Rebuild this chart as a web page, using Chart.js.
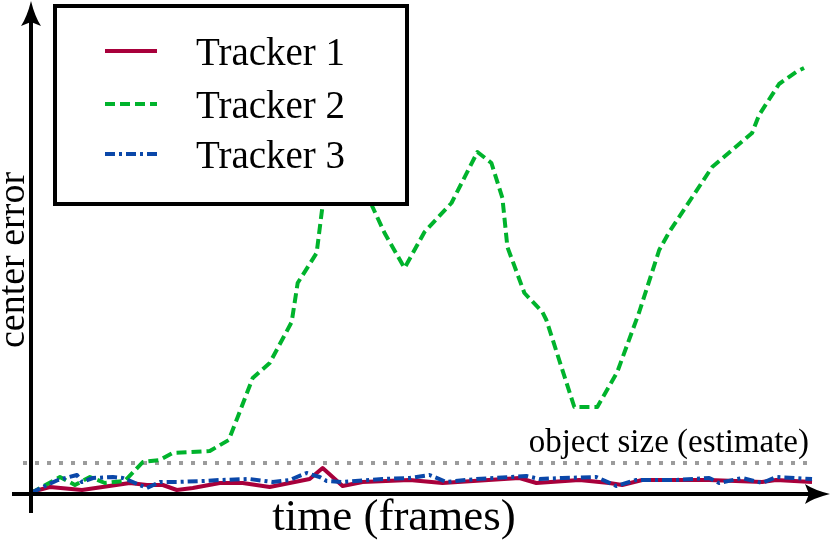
<!DOCTYPE html>
<html>
<head>
<meta charset="utf-8">
<script src="https://cdn.jsdelivr.net/npm/chart.js@4/dist/chart.umd.min.js"></script>
<style>
  html, body { margin: 0; padding: 0; background: #fff; }
  #wrap { width: 830px; height: 541px; position: relative; }
</style>
</head>
<body>
<div id="wrap"><canvas id="chart" width="830" height="541"></canvas></div>
<script>
// values (x = frame, y = center error)
const seriesNames = ["Tracker 1", "Tracker 2", "Tracker 3"];

const tracker1Frames = [0, 9.5, 25.5, 49.5, 58, 66, 73, 81, 94.5, 106, 119.5, 139.5, 146, 156, 166, 189.5, 206, 244.5, 253, 274.5, 289.5, 296, 306, 339.5, 366, 373, 391];
const tracker1Error  = [1, 3.5, 2, 5.5, 4.5, 4.5, 2, 3, 5.5, 5.5, 3.5, 7.5, 13, 4, 6, 7, 5.5, 8, 5.5, 7, 5.5, 4.5, 7, 7, 6, 7, 6];

const tracker2Frames = [0, 14.5, 22, 29.5, 37, 47, 56, 64.5, 71, 89.5, 99, 103.5, 111, 119.5, 130.5, 133.5, 143, 146, 152, 159.5, 165.5, 171, 177, 187, 197, 210.5, 223.5, 230.5, 236, 238.5, 247, 256, 258, 272, 283.5, 293.5, 304.5, 314.5, 319.5, 341, 361, 364.5, 374.5, 383, 387];
const tracker2Error  = [0.5, 8.5, 4.5, 8.5, 5.5, 6.5, 16, 17, 20.5, 21.5, 27, 38.5, 58, 65.5, 86, 105.5, 120.5, 144.5, 164.5, 172, 159.5, 143.5, 130.5, 113, 131, 145.5, 171, 165.5, 148, 123.5, 100.5, 91, 87, 43.5, 43.5, 61, 91, 122, 131, 163.5, 180.5, 189.5, 205, 211, 213];

const tracker3Frames = [0, 6, 13.5, 23, 25.5, 31, 41, 46, 51, 58, 64.5, 73, 86, 94.5, 109.5, 121, 129.5, 138, 144.5, 148, 156, 176, 189.5, 199.5, 208, 223, 248, 254.5, 266, 283, 293, 303, 323, 339.5, 344.5, 356, 366, 373, 391];
const tracker3Error  = [0.5, 3.5, 7, 9.5, 6, 8, 8.5, 8, 6, 3, 6, 6, 6.5, 7, 7.5, 6, 7, 10.5, 8.5, 6.5, 6, 7.5, 8, 9.5, 6, 7.5, 9, 7.5, 8, 8.5, 4, 7, 7, 8, 5.5, 8, 5.5, 8.5, 7.5];

const objectSize = 15.5;
const objectSizeFrames = [-4, 391];

const colors = ["#a8003b", "#00b32c", "#0a47a9"];
const dashes = [[], [10, 5], [10, 4, 3, 4]];

function toPoints(xs, ys) {
  return xs.map((x, i) => ({ x: x, y: ys[i] }));
}

const serif = '"Liberation Serif", "DejaVu Serif", serif';

// axes with arrow heads, labels and the boxed legend
const decorPlugin = {
  id: "decor",
  afterDatasetsDraw(chart) {
    const ctx = chart.ctx;
    const xs = chart.scales.x;
    const ys = chart.scales.y;
    const ox = xs.getPixelForValue(0);
    const oy = ys.getPixelForValue(0);

    ctx.save();
    ctx.strokeStyle = "#000";
    ctx.fillStyle = "#000";
    ctx.lineWidth = 4;
    ctx.setLineDash([]);

    // x axis
    ctx.beginPath();
    ctx.moveTo(12, oy);
    ctx.lineTo(812, oy);
    ctx.stroke();
    ctx.beginPath();
    ctx.moveTo(830, oy);
    ctx.quadraticCurveTo(814, oy - 4, 805, oy - 10);
    ctx.lineTo(809, oy);
    ctx.lineTo(805, oy + 10);
    ctx.quadraticCurveTo(814, oy + 4, 830, oy);
    ctx.fill();

    // y axis
    ctx.beginPath();
    ctx.moveTo(ox, 513);
    ctx.lineTo(ox, 20);
    ctx.stroke();
    ctx.beginPath();
    ctx.moveTo(ox, 1);
    ctx.quadraticCurveTo(ox - 4, 17, ox - 10, 26);
    ctx.lineTo(ox, 22);
    ctx.lineTo(ox + 10, 26);
    ctx.quadraticCurveTo(ox + 4, 17, ox, 1);
    ctx.fill();

    // axis titles
    ctx.textBaseline = "alphabetic";
    ctx.textAlign = "center";
    ctx.font = "45px " + serif;
    ctx.fillText("time (frames)", 394, 530);

    ctx.save();
    ctx.translate(24, 260);
    ctx.rotate(-Math.PI / 2);
    ctx.font = "38px " + serif;
    ctx.fillText("center error", 0, 0);
    ctx.restore();

    // object size label
    ctx.textAlign = "right";
    ctx.font = "33px " + serif;
    ctx.fillText("object size (estimate)", 809, 452);

    // legend box
    ctx.fillStyle = "#fff";
    ctx.fillRect(55, 6, 352, 198);
    ctx.lineWidth = 4;
    ctx.strokeRect(55, 6, 352, 198);

    const rows = [51, 104, 154];
    ctx.font = "39px " + serif;
    ctx.textAlign = "left";
    seriesNames.forEach((name, i) => {
      ctx.beginPath();
      ctx.strokeStyle = colors[i];
      ctx.lineWidth = 4;
      ctx.setLineDash(dashes[i]);
      ctx.moveTo(105, rows[i]);
      ctx.lineTo(157, rows[i]);
      ctx.stroke();
      ctx.setLineDash([]);
      ctx.fillStyle = "#000";
      ctx.fillText(name, 196, rows[i] + 14);
    });
    ctx.restore();
  }
};

const ctx = document.getElementById("chart").getContext("2d");
new Chart(ctx, {
  type: "line",
  data: {
    datasets: [
      {
        label: "object size",
        data: toPoints(objectSizeFrames, [objectSize, objectSize]),
        borderColor: "#9c9c9c",
        borderWidth: 4,
        borderDash: [4, 8],
        borderCapStyle: "butt",
        pointRadius: 0,
        clip: false,
        order: 4,
      },
      {
        label: seriesNames[0],
        data: toPoints(tracker1Frames, tracker1Error),
        borderColor: colors[0],
        borderWidth: 4,
        borderDash: dashes[0],
        borderJoinStyle: "round",
        pointRadius: 0,
        order: 3,
      },
      {
        label: seriesNames[1],
        data: toPoints(tracker2Frames, tracker2Error),
        borderColor: colors[1],
        borderWidth: 4,
        borderDash: dashes[1],
        borderJoinStyle: "round",
        pointRadius: 0,
        order: 2,
      },
      {
        label: seriesNames[2],
        data: toPoints(tracker3Frames, tracker3Error),
        borderColor: colors[2],
        borderWidth: 4,
        borderDash: dashes[2],
        borderJoinStyle: "round",
        pointRadius: 0,
        order: 1,
      },
    ],
  },
  options: {
    responsive: false,
    animation: false,
    layout: { padding: { left: 31, right: 0, top: 0, bottom: 47 } },
    plugins: {
      legend: { display: false },
      tooltip: { enabled: false },
    },
    scales: {
      x: { type: "linear", min: 0, max: 400, display: false },
      y: { type: "linear", min: 0, max: 247, display: false },
    },
  },
  plugins: [decorPlugin],
});
</script>
</body>
</html>
